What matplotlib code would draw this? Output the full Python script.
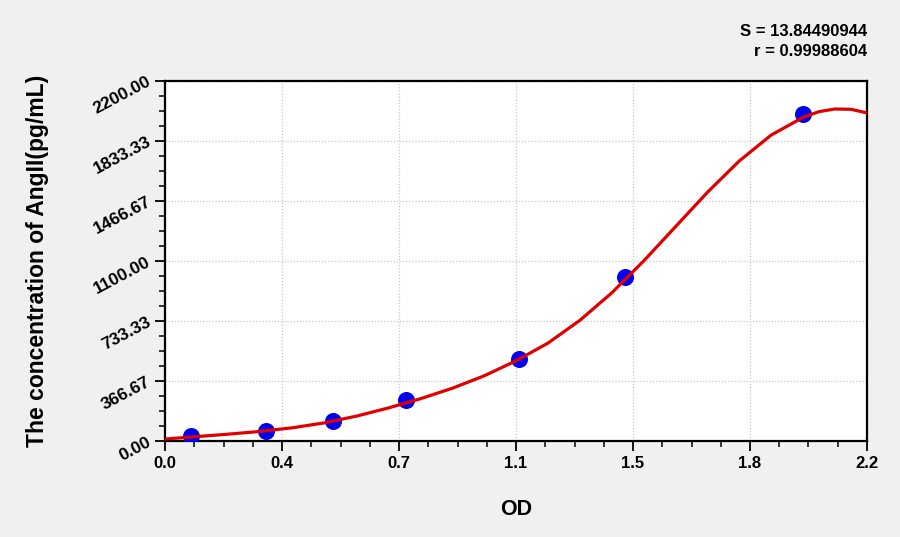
import matplotlib
matplotlib.use("Agg")
import matplotlib.pyplot as plt
from matplotlib.ticker import FixedLocator, AutoMinorLocator

# Standard points (OD vs concentration)
od_points = [0.082, 0.316, 0.528, 0.755, 1.108, 1.441, 2.000]
conc_points = [31.25, 62.5, 125, 250, 500, 1000, 2000]

# Fitted curve
curve_od = [0.0, 0.1, 0.2, 0.3, 0.4, 0.5, 0.6, 0.7, 0.8, 0.9, 1.0, 1.1, 1.2,
            1.3, 1.4, 1.5, 1.6, 1.7, 1.8, 1.9, 2.0, 2.05, 2.1, 2.15, 2.2]
curve_conc = [12, 27, 42, 59, 81, 111, 152, 202, 258, 322, 398, 490, 598,
              737, 905, 1100, 1310, 1520, 1712, 1870, 1978, 2013, 2029, 2027, 2005]

x_ticks = [0.0, 2.2 / 6, 2.2 * 2 / 6, 1.1, 2.2 * 4 / 6, 2.2 * 5 / 6, 2.2]
x_tick_labels = ["0.0", "0.4", "0.7", "1.1", "1.5", "1.8", "2.2"]
y_ticks = [0, 366.67, 733.33, 1100, 1466.67, 1833.33, 2200]
y_tick_labels = ["0.00", "366.67", "733.33", "1100.00", "1466.67", "1833.33", "2200.00"]

stats_lines = ["S = 13.84490944", "r = 0.99988604"]

fam = ["Liberation Sans Narrow", "Liberation Sans", "DejaVu Sans"]
fam2 = ["Liberation Sans", "DejaVu Sans"]

fig = plt.figure(figsize=(9, 5.37), dpi=100, facecolor="#f0f0f0")
ax = fig.add_axes([165 / 900, 1 - 441 / 537, (867 - 165) / 900, (441 - 81) / 537])
ax.set_facecolor("white")

ax.scatter(od_points, conc_points, s=150, color="#0000ee", zorder=3, linewidths=0)
ax.plot(curve_od, curve_conc, color="#e00000", lw=2.3, zorder=4,
        solid_capstyle="round", solid_joinstyle="round", clip_on=True)

ax.set_xlim(0, 2.2)
ax.set_ylim(0, 2200)

ax.xaxis.set_major_locator(FixedLocator(x_ticks))
ax.yaxis.set_major_locator(FixedLocator(y_ticks))
ax.xaxis.set_minor_locator(AutoMinorLocator(4))
ax.yaxis.set_minor_locator(AutoMinorLocator(4))
ax.set_xticklabels(x_tick_labels, fontsize=12, fontweight="bold", family=fam)
ax.set_yticklabels(y_tick_labels, fontsize=12.5, fontweight="bold", family=fam2,
                   rotation=28, ha="right", va="center", rotation_mode="anchor")

ax.tick_params(axis="both", which="major", direction="out", length=7, width=1.3,
               color="black")
ax.tick_params(axis="both", which="minor", direction="out", length=4.5, width=1.1,
               color="black")
ax.tick_params(axis="x", which="major", pad=4)
ax.tick_params(axis="y", which="major", pad=4)

ax.grid(True, which="major", color="#c8c8c8", linestyle=(0, (1, 1.5)), linewidth=0.9)
ax.set_axisbelow(True)

for sp in ax.spines.values():
    sp.set_linewidth(1.6)
    sp.set_color("black")

ax.set_xlabel("OD", fontsize=15.5, fontweight="bold", family=fam2, labelpad=20)
ax.set_ylabel("The concentration of AngII(pg/mL)", fontsize=16.5, fontweight="bold",
              family=fam2, labelpad=30)

fig.text(867 / 900, 1 - 31 / 537, stats_lines[0], ha="right", va="center",
         fontsize=12, fontweight="bold", family=fam)
fig.text(867 / 900, 1 - 52 / 537, stats_lines[1], ha="right", va="center",
         fontsize=12, fontweight="bold", family=fam)

fig.savefig("out.png", dpi=100, facecolor=fig.get_facecolor())
